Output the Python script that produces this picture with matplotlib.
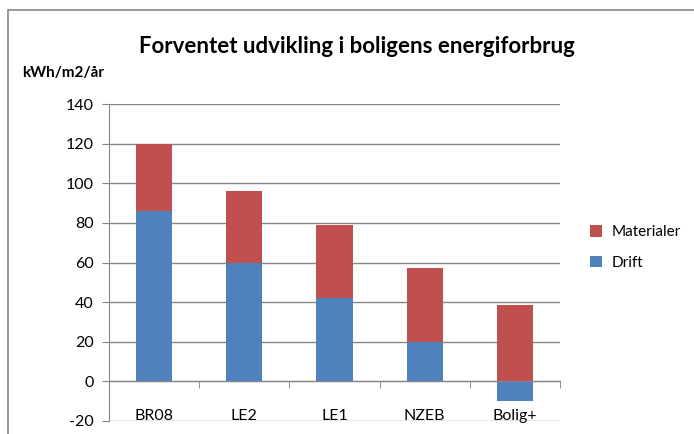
import matplotlib
matplotlib.use('Agg')
import matplotlib.pyplot as plt
import numpy as np
from matplotlib.patches import Rectangle

plt.rcParams['font.family'] = ['Lato', 'DejaVu Sans']
plt.rcParams['axes.unicode_minus'] = False

categories = ['BR08', 'LE2', 'LE1', 'NZEB', 'Bolig+']
drift = [86, 60, 42, 20, -10]
materialer = [34, 36, 37, 37.5, 38.5]

fig = plt.figure(figsize=(6.94, 4.34), dpi=100)
ax = fig.add_axes([0.157, 0.030, 0.650, 0.730])

x = np.arange(len(categories))
bottom = [max(d, 0) for d in drift]
ax.bar(x, drift, width=0.4, color='#4F81BD', label='Drift', zorder=3)
ax.bar(x, materialer, width=0.4, bottom=bottom, color='#C0504D',
       label='Materialer', zorder=3)

ax.set_ylim(-20, 140)
ax.set_xlim(-0.5, 4.5)
ax.set_yticks(range(-20, 141, 20))
ax.yaxis.grid(True, color='#868686', linewidth=1)
ax.set_axisbelow(True)
ax.tick_params(axis='y', length=5, color='#868686', labelsize=11.5, pad=6)

for s in ['top', 'right']:
    ax.spines[s].set_visible(False)
ax.spines['left'].set_color('#868686')
ax.spines['bottom'].set_position(('data', 0))
ax.spines['bottom'].set_color('#868686')
ax.spines['bottom'].set_zorder(4)

ax.set_xticks(x)
ax.set_xticklabels(categories)
ax.set_xticks(np.arange(-0.5, 5, 1), minor=True)
ax.tick_params(axis='x', which='major', length=0, labelsize=11.5, pad=20)
ax.tick_params(axis='x', which='minor', length=5, color='#868686')

fig.text(0.514, 0.892, 'Forventet udvikling i boligens energiforbrug',
         ha='center', va='center', fontsize=16, fontweight='bold')
fig.text(0.032, 0.832, 'kWh/m2/år', ha='left', va='center',
         fontsize=11, fontweight='bold')

handles, labels = ax.get_legend_handles_labels()
fig.legend(handles[::-1], labels[::-1], loc='center left',
           bbox_to_anchor=(0.83, 0.43), frameon=False, fontsize=11,
           handlelength=0.8, handleheight=0.8, handletextpad=0.6,
           labelspacing=1.1)

fig.patches.append(Rectangle((8 / 694, -0.1), 1.2, 1 - 10 / 434 + 0.1,
                             transform=fig.transFigure, fill=False,
                             edgecolor='#868686', linewidth=1.2))

fig.savefig('out.png', dpi=100)
